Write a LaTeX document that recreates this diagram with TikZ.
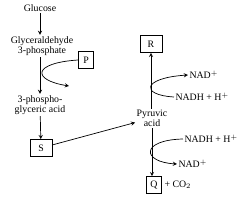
\documentclass[tikz,border=0pt]{standalone}
\usepackage{fontspec}
\setmainfont{Liberation Serif}
\begin{document}
\begin{tikzpicture}[x=0.03cm, y=-0.03cm, >=stealth, line width=0.6pt,
  every node/.style={font=\fontsize{8.4}{8.8}\selectfont, align=center, inner sep=1pt},
  lbox/.style={draw, minimum width=13pt, minimum height=14.5pt, inner sep=2pt}]
  \useasboundingbox (0,0) rectangle (244,201);
  % left branch
  \node (glucose) at (40,8) {Glucose};
  \node (gald) at (42,46) {Glyceraldehyde\\3-phosphate};
  \node[lbox] (P) at (86,60) {P};
  \node (pga) at (40,105) {3-phospho-\\glyceric acid};
  \node[lbox, minimum width=19pt] (S) at (41,148) {S};
  \draw[->] (glucose) -- (glucose |- gald.north);
  \draw[->] (glucose |- gald.south) -- (glucose |- pga.north);
  \draw[->] (pga) -- (S);
  \coordinate (pend) at (69,86);
  \draw[->] (P.west) .. controls (32,63) and (32,80) .. (pend);
  % pyruvic acid
  \node (pyr) at (152,118) {Pyruvic\\acid};
  \draw[->] (S) -- (pyr);
  % upper right
  \node[lbox, minimum width=19pt] (R) at (151,44) {R};
  \node[anchor=west] (nadA) at (188,75) {NAD$^+$};
  \node[anchor=west] (nadhA) at (174,97) {NADH + H$^+$};
  \draw[->] (pyr.north) -- (pyr.north -| R) -- (R.south);
  \draw[->] (nadhA.west) .. controls (140,95) and (142,78) .. (nadA.west);
  % lower right
  \node[lbox] (Q) at (154,185) {Q};
  \node[anchor=west] (co2) at (163,185) {+ CO$_2$};
  \node[anchor=west] (nadhB) at (183,139) {NADH + H$^+$};
  \node[anchor=west] (nadB) at (177,164) {NAD$^+$};
  \draw[->] (pyr.south) -- (pyr.south |- Q.north);
  \draw[->] (nadhB.west) .. controls (140,140) and (142,162) .. (nadB.west);
\end{tikzpicture}
\end{document}
